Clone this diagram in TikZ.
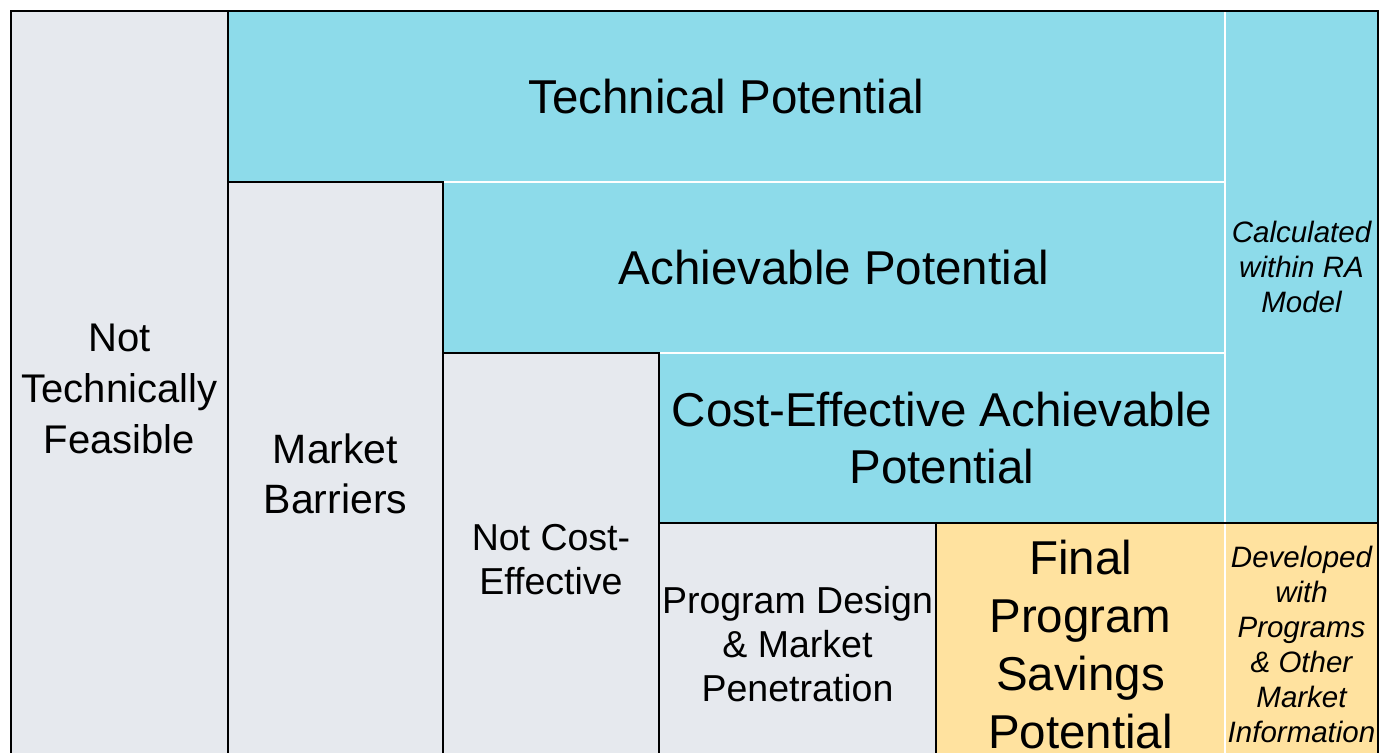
\documentclass[tikz,border=0pt]{standalone}
\usepackage{fontspec}
\setmainfont{Liberation Sans}
\definecolor{cy}{HTML}{8DDBEA}
\definecolor{gr}{HTML}{E6E9EE}
\definecolor{ye}{HTML}{FFE29F}
\begin{document}
\begin{tikzpicture}[x=1pt,y=-1pt,
  box/.style={rectangle, inner sep=0pt, outer sep=0pt, align=center, line width=2pt},
  greybox/.style={box, fill=gr, draw=black},
  cyanbox/.style={box, fill=cy, draw=white},
  yelbox/.style={box, fill=ye, draw=white},
  big/.style={font=\fontsize{47.5}{57}\selectfont},
  mid/.style={font=\fontsize{41}{50.5}\selectfont},
  small/.style={font=\fontsize{37.5}{43.5}\selectfont},
  note/.style={font=\fontsize{29.5}{35}\selectfont\itshape}]
\useasboundingbox[fill=white] (0,0) rectangle (1380,752);
\clip (0,0) rectangle (1380,752);
% cyan and yellow boxes
\node[cyanbox, big, minimum width=997, minimum height=171] (tech) at (726.5,96.5) {Technical Potential};
\node[cyanbox, note, minimum width=153, minimum height=512] (calc) at (1301.5,267) {Calculated\\within RA\\Model};
\node[cyanbox, big, minimum width=782, minimum height=171] (ach) at (834,267.5) {Achievable Potential};
\node[cyanbox, big, minimum width=566, minimum height=170] (cea) at (942,438) {Cost-Effective Achievable\\Potential};
\node[yelbox, font=\fontsize{47.5}{58}\selectfont, minimum width=289, minimum height=243] (final) at (1080.5,644.5) {Final\\Program\\Savings\\Potential};
\node[yelbox, note, minimum width=153, minimum height=243] (dev) at (1301.5,644.5) {Developed\\with\\Programs\\\& Other\\Market\\Information};
% grey boxes
\node[greybox, font=\fontsize{40}{51}\selectfont, minimum width=217, minimum height=755] (ntf) at (119.5,388.5) {Not\\Technically\\Feasible};
\node[greybox, mid, minimum width=215, minimum height=584] (mb) at (335.5,474) {Market\\Barriers};
\node[greybox, small, minimum width=216, minimum height=413] (nce) at (551,559.5) {Not Cost-\\Effective};
\node[greybox, font=\fontsize{37.5}{44}\selectfont, minimum width=277, minimum height=243] (pd) at (797.5,644.5) {Program Design\\\& Market\\Penetration};
% black rules
\draw[line width=2pt] (pd.north west) -- (dev.north east);
\draw[line width=2.5pt] (ntf.south west) -- (ntf.north west) -- (calc.north east) -- (dev.south east);
\end{tikzpicture}
\end{document}
